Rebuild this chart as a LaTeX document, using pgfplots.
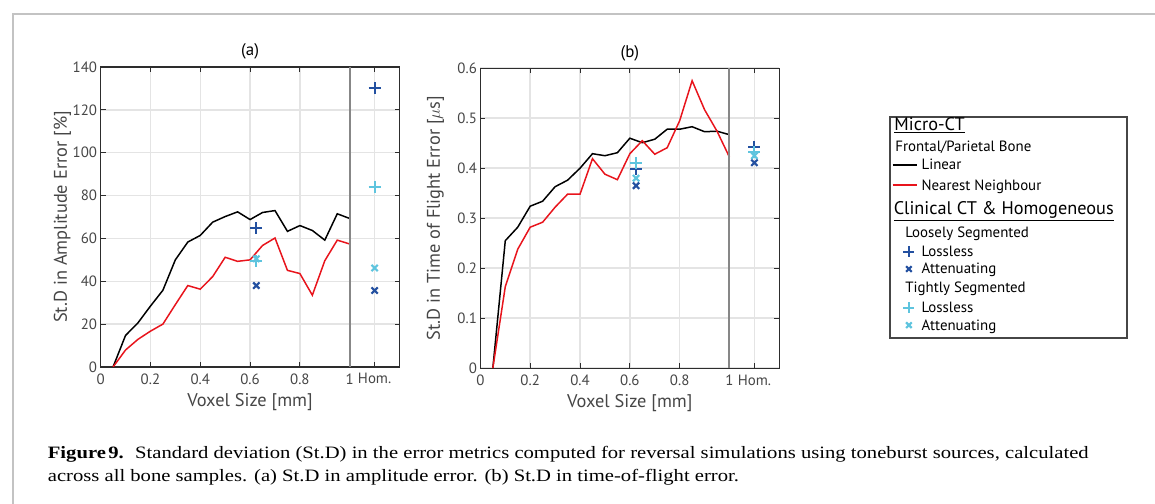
\documentclass[border=0pt]{standalone}
\usepackage{fontspec}
\setmainfont{PT Sans}
\newfontfamily\capfont{Liberation Serif}
\usepackage{graphicx}
\usepackage{pgfplots}
\pgfplotsset{compat=1.18}
\usepackage{pgfplotstable}

\definecolor{axgray}{RGB}{45,45,45}
\definecolor{txtgray}{RGB}{70,70,70}
\definecolor{gridgray}{RGB}{228,228,228}
\definecolor{dblue}{RGB}{35,80,160}
\definecolor{lblue}{RGB}{94,196,222}
\definecolor{mred}{RGB}{232,20,28}
\definecolor{sepgray}{RGB}{135,135,135}
\definecolor{framegray}{RGB}{195,195,195}
\definecolor{leggray}{RGB}{70,70,70}
\definecolor{capgray}{RGB}{35,31,32}

\pgfplotstableread{
x lin nn
0.05 0 0
0.10 14.7 7.9
0.15 20.6 12.9
0.20 28.4 16.7
0.25 35.8 20.0
0.30 50.0 29.1
0.35 58.3 38.0
0.40 61.4 36.3
0.45 67.6 42.2
0.50 70.2 51.2
0.55 72.4 49.3
0.60 68.8 50.0
0.65 72.1 56.7
0.70 73.0 60.2
0.75 63.3 45.1
0.80 66.0 43.6
0.85 63.7 33.5
0.90 59.2 49.6
0.95 71.5 59.2
1.00 69.3 57.4
}\ampdata

\pgfplotstableread{
x lin nn
0.05 0 0
0.10 0.255 0.163
0.15 0.282 0.238
0.20 0.324 0.282
0.25 0.334 0.292
0.30 0.363 0.322
0.35 0.376 0.348
0.40 0.400 0.348
0.45 0.429 0.419
0.50 0.425 0.388
0.55 0.431 0.377
0.60 0.460 0.429
0.65 0.451 0.455
0.70 0.458 0.428
0.75 0.478 0.441
0.80 0.478 0.495
0.85 0.483 0.575
0.90 0.473 0.517
0.95 0.474 0.474
1.00 0.467 0.422
}\tofdata

\pgfplotsset{
  mstyle/.style={
    scale only axis, width=301pt, height=302pt,
    xmin=0, xmax=1.2, ymin=0,
    xtick={0,0.2,0.4,0.6,0.8,1,1.1},
    xticklabels={0,0.2,0.4,0.6,0.8,1,Hom.},
    axis line style={axgray, line width=1.2pt},
    tick style={axgray, line width=1pt},
    major tick length=5pt,
    tick align=inside,
    grid=major,
    major grid style={gridgray, line width=1.5pt},
    tick label style={font=\fontsize{15}{15}\selectfont, text=txtgray},
    xticklabel style={yshift=-3pt},
    label style={font=\fontsize{18.5}{18.5}\selectfont, text=txtgray},
    xlabel style={at={(axis description cs:0.5,0)}, anchor=base, yshift=-39.5pt},
    title style={font=\fontsize{17}{17}\selectfont, text=black, at={(axis description cs:0.5,1)}, anchor=base, yshift=5.3pt},
    /pgf/number format/assume math mode=true,
  },
  llineK/.style={legend image code/.code={\draw[black, line width=1.5pt] (0pt,5pt) -- (25pt,5pt);}},
  llineR/.style={legend image code/.code={\draw[mred, line width=1.5pt] (0pt,5pt) -- (25pt,5pt);}},
  lmark/.style={legend image code/.code={\draw[##1] plot coordinates {(16.5pt,5pt)};}},
  plusA/.style={only marks, mark=+, mark size=6pt, line width=2pt},
  crossA/.style={only marks, mark=x, mark size=4.5pt, line width=2.2pt},
}
\newcommand{\st}[2]{\rule[-#2pt]{0pt}{\dimexpr#1pt+#2pt\relax}}
\newsavebox\capA
\newsavebox\capB

\begin{document}
\sbox\capA{\capfont\fontsize{17.5}{20}\selectfont\textbf{Figure\kern2pt9.}\hspace{0.55em}Standard deviation (St.D) in the error metrics computed for reversal simulations using toneburst sources, calculated}
\sbox\capB{\capfont\fontsize{17.5}{20}\selectfont across all bone samples. (a) St.D in amplitude error. (b) St.D in time-of-flight error.}
\pgfmathsetmacro\capsx{1048/\wd\capA}
\begin{tikzpicture}
\path[use as bounding box] (0,0) rectangle (1155pt,507pt);
\draw[framegray, line width=2pt] (5pt,0pt) -- (5pt,493pt) -- (1155pt,493pt);

% ---------- (a)
\begin{axis}[mstyle, at={(93.3pt,137.5pt)}, anchor=south west,
  ymax=140, ytick={0,20,40,60,80,100,120,140},
  title={(a)},
  xlabel={Voxel Size [mm]},
  ylabel={St.D in Amplitude Error [\%]},
  ylabel style={at={([xshift=-34pt]axis description cs:0,0.5)}, anchor=base},
]
\addplot[black, line width=1.5pt] table[x=x, y=lin] {\ampdata};
\addplot[mred, line width=1.5pt] table[x=x, y=nn] {\ampdata};
\addplot[sepgray, line width=2pt] coordinates {(1,0) (1,140)};
\addplot[plusA, dblue] coordinates {(0.625,64.8) (1.1,130.2)};
\addplot[crossA, dblue] coordinates {(0.625,38.0) (1.1,35.7)};
\addplot[plusA, lblue] coordinates {(0.625,49.6) (1.1,84.2)};
\addplot[crossA, lblue] coordinates {(0.625,50.5) (1.1,46.2)};
\end{axis}

% ---------- (b)
\begin{axis}[mstyle, at={(475.7pt,136.3pt)}, anchor=south west,
  ymax=0.6, ytick={0,0.1,0.2,0.3,0.4,0.5,0.6},
  yticklabels={0,0.1,0.2,0.3,0.4,0.5,0.6},
  title={(b)},
  xlabel={Voxel Size [mm]},
  ylabel={St.D in Time of Flight Error [$\mu$s]},
  ylabel style={at={([xshift=-40.7pt]axis description cs:0,0.5)}, anchor=base},
  legend style={at={(1.3671,0.8396)}, anchor=north west, draw=leggray, line width=1.5pt,
    fill=white, inner xsep=2pt, inner ysep=0.5pt, font=\fontsize{15}{15}\selectfont,
    column sep=3.5pt, row sep=0pt, cells={anchor=base west},
    nodes={inner sep=0pt, text depth=, text height=, text=black}},
]
\addlegendimage{empty legend}\addlegendentry{\st{13}{5}\hspace*{-27.3pt}{\fontsize{18.4}{18.4}\selectfont\underline{Micro-CT}}}
\addlegendimage{empty legend}\addlegendentry{\st{16}{5}\hspace*{-26.3pt}Frontal/Parietal Bone}
\addlegendimage{llineK}\addlegendentry{\st{13.5}{5}Linear}
\addlegendimage{llineR}\addlegendentry{\st{15.5}{5}Nearest Neighbour}
\addlegendimage{empty legend}\addlegendentry{\st{19.5}{5}\makebox[205pt][l]{\hspace*{-28pt}\fontsize{18.4}{18.4}\selectfont\underline{Clinical CT \& Homogeneous}}}
\addlegendimage{empty legend}\addlegendentry{\st{17.5}{5}\hspace*{-16.3pt}Loosely Segmented}
\addlegendimage{lmark, only marks, mark=+, mark size=5.5pt, line width=2pt, dblue}\addlegendentry{\st{14}{5}Lossless}
\addlegendimage{lmark, only marks, mark=x, mark size=4pt, line width=2.2pt, dblue}\addlegendentry{\st{12.5}{5}Attenuating}
\addlegendimage{empty legend}\addlegendentry{\st{13.5}{5}\hspace*{-16.3pt}Tightly Segmented}
\addlegendimage{lmark, only marks, mark=+, mark size=5.5pt, line width=2pt, lblue}\addlegendentry{\st{15.5}{5}Lossless}
\addlegendimage{lmark, only marks, mark=x, mark size=4pt, line width=2.2pt, lblue}\addlegendentry{\st{12.5}{7.3}Attenuating}

\addplot[black, line width=1.5pt, forget plot] table[x=x, y=lin] {\tofdata};
\addplot[mred, line width=1.5pt, forget plot] table[x=x, y=nn] {\tofdata};
\addplot[sepgray, line width=2pt, forget plot] coordinates {(1,0) (1,0.6)};
\addplot[plusA, dblue, forget plot] coordinates {(0.625,0.398) (1.1,0.443)};
\addplot[crossA, dblue, forget plot] coordinates {(0.625,0.365) (1.1,0.411)};
\addplot[plusA, lblue, forget plot] coordinates {(0.625,0.410) (1.1,0.433)};
\addplot[crossA, lblue, forget plot] coordinates {(0.625,0.380) (1.1,0.425)};
\end{axis}

\node[anchor=base west, inner sep=0pt, text=capgray] at (40pt,45.3pt) {\scalebox{\capsx}[1]{\usebox\capA}};
\node[anchor=base west, inner sep=0pt, text=capgray] at (40pt,22pt) {\scalebox{\capsx}[1]{\usebox\capB}};
\end{tikzpicture}
\end{document}
